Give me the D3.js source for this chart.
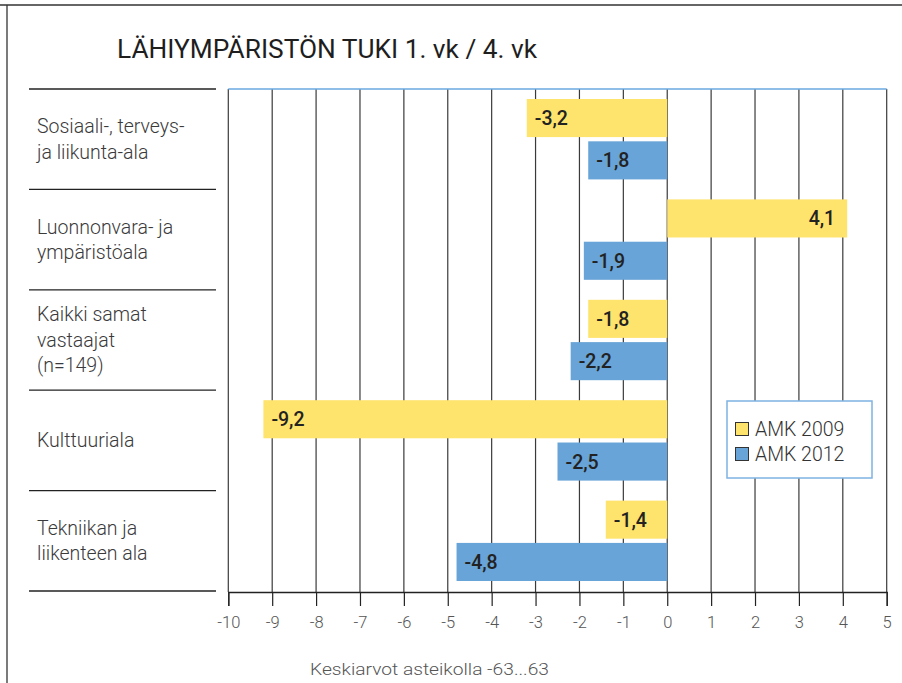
<!DOCTYPE html>
<html>
<head>
<meta charset="utf-8">
<script src="https://cdn.jsdelivr.net/npm/d3@7"></script>
<style>
  body { margin: 0; background: #fff; }
  svg { display: block; font-family: Roboto, "Open Sans", sans-serif; }
</style>
</head>
<body>
<svg id="chart" width="902" height="683"></svg>
<script>
// Data
const categories = [
  ["Sosiaali-, terveys-", "ja liikunta-ala"],
  ["Luonnonvara- ja", "ympäristöala"],
  ["Kaikki samat", "vastaajat", "(n=149)"],
  ["Kulttuuriala"],
  ["Tekniikan ja", "liikenteen ala"]
];
const seriesNames = ["AMK 2009", "AMK 2012"];
const amk2009 = [-3.2, 4.1, -1.8, -9.2, -1.4];
const amk2012 = [-1.8, -1.9, -2.2, -2.5, -4.8];
const tickValues = [-10, -9, -8, -7, -6, -5, -4, -3, -2, -1, 0, 1, 2, 3, 4, 5];
const colors = ["#fee36c", "#68a4d7"];

const svg = d3.select("#chart");

// frame
svg.append("line").attr("x1", 0).attr("x2", 902).attr("y1", 5).attr("y2", 5)
  .attr("stroke", "#333").attr("stroke-width", 1.3);
svg.append("line").attr("x1", 7).attr("x2", 7).attr("y1", 5).attr("y2", 683)
  .attr("stroke", "#333").attr("stroke-width", 1.3);

// title
svg.append("text").attr("x", 117).attr("y", 58)
  .attr("font-size", 25).attr("fill", "#1e1e1e").attr("font-weight", 400)
  .attr("textLength", 420).attr("lengthAdjust", "spacingAndGlyphs")
  .text("LÄHIYMPÄRISTÖN TUKI 1. vk / 4. vk");

// scales
const x = d3.scaleLinear().domain([-10, 5]).range([228.3, 886.7]);
const y = d3.scaleBand().domain(d3.range(categories.length)).range([89, 591]);
const inner = d3.scaleBand().domain([0, 1]).range([10, y.bandwidth() - 10]).paddingInner(0.1);

// gridlines
svg.append("g").selectAll("line").data(tickValues).join("line")
  .attr("x1", d => x(d)).attr("x2", d => x(d))
  .attr("y1", 89).attr("y2", 592)
  .attr("stroke", "#3a3a3a").attr("stroke-width", 1.2);

// plot top border
svg.append("line").attr("x1", x(-10)).attr("x2", x(5)).attr("y1", 89).attr("y2", 89)
  .attr("stroke", "#6aa8e0").attr("stroke-width", 1.3);

// left category dividers
svg.append("g").selectAll("line").data(d3.range(categories.length + 1)).join("line")
  .attr("x1", 29).attr("x2", 216)
  .attr("y1", i => 89 + i * y.step()).attr("y2", i => 89 + i * y.step())
  .attr("stroke", "#222").attr("stroke-width", 1.3);

// category labels
const lh = 25.5;
categories.forEach((lines, i) => {
  const cy = y(i) + y.bandwidth() / 2;
  const t = svg.append("text").attr("font-size", 19.5).attr("fill", "#3a3a3a")
    .attr("font-weight", 300);
  lines.forEach((ln, k) => {
    t.append("tspan").attr("x", 37)
      .attr("y", cy + (k - (lines.length - 1) / 2) * lh)
      .attr("dy", "0.35em").text(ln);
  });
});

// bars
const series = [amk2009, amk2012];
const fmt = v => d3.format(".1f")(v).replace(".", ",").replace("−", "-");
series.forEach((vals, s) => {
  const g = svg.append("g");
  vals.forEach((v, i) => {
    const y0 = y(i) + inner(s);
    const x0 = Math.min(x(0), x(v));
    const w = Math.abs(x(v) - x(0));
    g.append("rect").attr("x", x0).attr("y", y0)
      .attr("width", w).attr("height", inner.bandwidth())
      .attr("fill", colors[s]);
    g.append("text")
      .attr("x", v < 0 ? x(v) + 8 : x(v) - 12)
      .attr("y", y0 + inner.bandwidth() / 2)
      .attr("dy", "0.36em")
      .attr("text-anchor", v < 0 ? "start" : "end")
      .attr("font-size", 19.5).attr("font-weight", 500).attr("fill", "#222")
      .text(fmt(v));
  });
});

// x axis
const axis = svg.append("g").attr("transform", "translate(0,592)")
  .call(d3.axisBottom(x).tickValues(tickValues).tickSize(14).tickPadding(10)
    .tickFormat(d => String(d)));
axis.select(".domain").attr("stroke", "#222").attr("stroke-width", 1.3);
axis.selectAll(".tick line").attr("stroke", "#222").attr("stroke-width", 1.2);
axis.selectAll(".tick text").attr("font-size", 16.5).attr("fill", "#555")
  .attr("font-weight", 300).attr("font-family", "Roboto, sans-serif");

svg.append("text").attr("x", 310).attr("y", 675)
  .attr("font-size", 17).attr("fill", "#555").attr("font-weight", 300)
  .attr("textLength", 239).attr("lengthAdjust", "spacingAndGlyphs")
  .text("Keskiarvot asteikolla -63...63");

// legend
const lg = svg.append("g").attr("transform", "translate(727,401)");
lg.append("rect").attr("width", 145).attr("height", 77)
  .attr("fill", "#fff").attr("stroke", "#7db3e3").attr("stroke-width", 1.5);
seriesNames.forEach((name, i) => {
  lg.append("rect").attr("x", 8.5).attr("y", 21.5 + i * 25).attr("width", 13).attr("height", 13)
    .attr("fill", colors[i]).attr("stroke", "#333").attr("stroke-width", 1);
  lg.append("text").attr("x", 28).attr("y", 28 + i * 25).attr("dy", "0.36em")
    .attr("font-size", 19.5).attr("fill", "#333").attr("font-weight", 300).text(name);
});
</script>
</body>
</html>
